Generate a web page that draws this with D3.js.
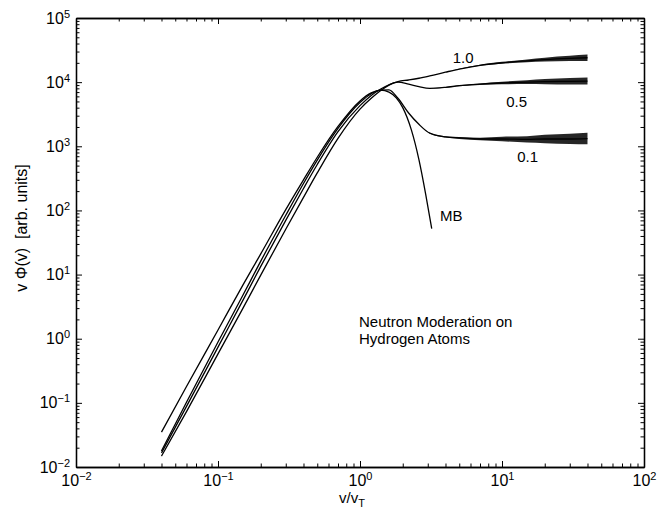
<!DOCTYPE html>
<html>
<head>
<meta charset="utf-8">
<script src="https://cdn.jsdelivr.net/npm/d3@7"></script>
<style>
  body { margin: 0; background: #fff; }
  svg text { font-family: "Liberation Sans", Arial, sans-serif; fill: #000; }
</style>
</head>
<body>
<svg id="chart" width="668" height="512"></svg>
<script>
// speeds (v/vT) shared by the three moderated curves
const speeds = [0.04, 0.06, 0.1, 0.15, 0.2, 0.3, 0.4, 0.5, 0.7, 1.0, 1.2, 1.4, 1.6, 1.85,
  2.2, 2.6, 3.1, 4, 5, 7, 10, 15, 20, 30, 40];

const flux01 = [0.0178, 0.102, 0.89, 4.8, 16.2, 84, 263, 608, 1900, 4800, 6600, 7500, 7600, 5600,
  3300, 2200, 1600, 1400, 1350, 1300, 1300, 1280, 1300, 1300, 1320];
const flux05 = [0.0166, 0.088, 0.74, 4.0, 13.4, 70, 220, 520, 1690, 4300, 6200, 7800, 9100, 10000,
  9300, 8500, 8000, 8300, 8800, 9300, 9700, 10000, 10200, 10300, 10400];
const flux10 = [0.0148, 0.073, 0.58, 3.0, 9.8, 51, 160, 385, 1330, 3800, 5600, 7400, 9000, 10200,
  10800, 11500, 12500, 14300, 16000, 18300, 20000, 21500, 22500, 23500, 24000];

// spread of the statistical noise on each tail (half width, in decades)
const noise01 = [0, 0, 0, 0, 0, 0, 0, 0, 0, 0, 0, 0, 0, 0,
  0, 0, 0.005, 0.01, 0.015, 0.02, 0.035, 0.05, 0.065, 0.08, 0.09];
const noise05 = [0, 0, 0, 0, 0, 0, 0, 0, 0, 0, 0, 0, 0, 0,
  0, 0, 0, 0.005, 0.008, 0.012, 0.02, 0.03, 0.04, 0.05, 0.055];
const noise10 = [0, 0, 0, 0, 0, 0, 0, 0, 0, 0, 0, 0, 0, 0,
  0, 0, 0, 0, 0.004, 0.008, 0.015, 0.022, 0.03, 0.04, 0.05];

// Maxwell-Boltzmann curve
const mbSpeeds = [0.04, 0.06, 0.1, 0.15, 0.2, 0.3, 0.4, 0.5, 0.7, 1.0, 1.2, 1.4, 1.6, 1.8, 2.0,
  2.3, 2.6, 2.9, 3.2];
const mbFlux = [0.035, 0.18, 1.37, 6.9, 21, 103, 300, 675, 2040, 5100, 6800, 7500, 7000, 5700, 4000,
  1800, 620, 180, 52];

const xTickExps = [-2, -1, 0, 1, 2];
const yTickExps = [-2, -1, 0, 1, 2, 3, 4, 5];

const curveLabels = [
  { text: '1.0', v: 4.5, f: 20000 },
  { text: '0.5', v: 10.7, f: 4100 },
  { text: '0.1', v: 12.8, f: 570 },
  { text: 'MB', v: 3.66, f: 68 }
];
const noteLines = ['Neutron Moderation on', 'Hydrogen Atoms'];

const svg = d3.select('#chart');
const plotLeft = 76, plotRight = 644, plotTop = 18, plotBottom = 467;

const x = d3.scaleLog().domain([1e-2, 1e2]).range([plotLeft, plotRight]);
const y = d3.scaleLog().domain([1e-2, 1e5]).range([plotBottom, plotTop]);

const minors = (lo, hi) => {
  const out = [];
  for (let e = lo; e < hi; e++) for (let m = 2; m <= 9; m++) out.push(m * Math.pow(10, e));
  return out;
};
const xMajor = xTickExps.map(e => Math.pow(10, e));
const yMajor = yTickExps.map(e => Math.pow(10, e));
const xMinor = minors(-2, 2);
const yMinor = minors(-2, 5);

function supLabel(sel, exps) {
  sel.selectAll('.tick text').each(function (d, i) {
    const t = d3.select(this).text(null);
    t.append('tspan').text('10');
    t.append('tspan')
      .attr('dy', '-0.55em')
      .style('font-size', '11px')
      .text(String(exps[i]).replace('-', '\u2212'));
  });
}

// axes: ticks point inward on all four sides
const gBottom = svg.append('g').attr('transform', `translate(0,${plotBottom})`)
  .call(d3.axisBottom(x).tickValues(xMajor).tickSize(-6).tickPadding(7.5).tickSizeOuter(0));
supLabel(gBottom, xTickExps);
svg.append('g').attr('transform', `translate(0,${plotBottom})`)
  .call(d3.axisBottom(x).tickValues(xMinor).tickSize(-3.5).tickFormat('').tickSizeOuter(0));

svg.append('g').attr('transform', `translate(0,${plotTop})`)
  .call(d3.axisTop(x).tickValues(xMajor).tickSize(-6).tickFormat('').tickSizeOuter(0));
svg.append('g').attr('transform', `translate(0,${plotTop})`)
  .call(d3.axisTop(x).tickValues(xMinor).tickSize(-3.5).tickFormat('').tickSizeOuter(0));

const gLeft = svg.append('g').attr('transform', `translate(${plotLeft},0)`)
  .call(d3.axisLeft(y).tickValues(yMajor).tickSize(-6).tickPadding(6).tickSizeOuter(0));
supLabel(gLeft, yTickExps);
svg.append('g').attr('transform', `translate(${plotLeft},0)`)
  .call(d3.axisLeft(y).tickValues(yMinor).tickSize(-3.5).tickFormat('').tickSizeOuter(0));

svg.append('g').attr('transform', `translate(${plotRight},0)`)
  .call(d3.axisRight(y).tickValues(yMajor).tickSize(-6).tickFormat('').tickSizeOuter(0));
svg.append('g').attr('transform', `translate(${plotRight},0)`)
  .call(d3.axisRight(y).tickValues(yMinor).tickSize(-3.5).tickFormat('').tickSizeOuter(0));

svg.selectAll('.domain').attr('stroke', '#000').attr('stroke-width', 1.3);
svg.selectAll('.tick line').attr('stroke', '#000').attr('stroke-width', 1);
svg.selectAll('.tick text').style('font-size', '16px').attr('fill', '#000');

// curves
const line = d3.line().x(d => x(d[0])).y(d => y(d[1])).curve(d3.curveMonotoneX);
const band = d3.area().x(d => x(d[0]))
  .y0(d => y(d[1] * Math.pow(10, -d[2])))
  .y1(d => y(d[1] * Math.pow(10, d[2])))
  .curve(d3.curveMonotoneX);

const series = [
  { flux: flux10, noise: noise10 },
  { flux: flux05, noise: noise05 },
  { flux: flux01, noise: noise01 }
];

series.forEach(s => {
  const pts = speeds.map((v, i) => [v, s.flux[i], s.noise[i]]);
  svg.append('path').datum(pts)
    .attr('d', line).attr('fill', 'none').attr('stroke', '#000').attr('stroke-width', 1.3);
  const first = s.noise.findIndex(n => n > 0);
  svg.append('path').datum(pts.slice(Math.max(first - 1, 0)))
    .attr('d', band).attr('fill', '#000').attr('fill-opacity', 0.85);
});

svg.append('path').datum(mbSpeeds.map((v, i) => [v, mbFlux[i]]))
  .attr('d', line).attr('fill', 'none').attr('stroke', '#000').attr('stroke-width', 1.3);

// labels
svg.selectAll('.clabel').data(curveLabels).enter().append('text')
  .attr('class', 'clabel')
  .attr('x', d => x(d.v)).attr('y', d => y(d.f))
  .style('font-size', '15px')
  .text(d => d.text);

svg.append('text')
  .attr('x', 359).attr('y', 327)
  .style('font-size', '15px')
  .selectAll('tspan').data(noteLines).enter().append('tspan')
  .attr('x', 359).attr('dy', (d, i) => i ? 17 : 0)
  .text(d => d);

const xt = svg.append('text')
  .attr('x', 352).attr('y', 503).attr('text-anchor', 'middle')
  .style('font-size', '15px');
xt.append('tspan').text('v/v');
xt.append('tspan').attr('dy', 4).style('font-size', '11px').text('T');

svg.append('text')
  .attr('transform', 'translate(27,228) rotate(-90)')
  .attr('text-anchor', 'middle')
  .style('font-size', '16px')
  .text('v \u03A6(v)\u00A0\u00A0[arb. units]');
</script>
</body>
</html>
